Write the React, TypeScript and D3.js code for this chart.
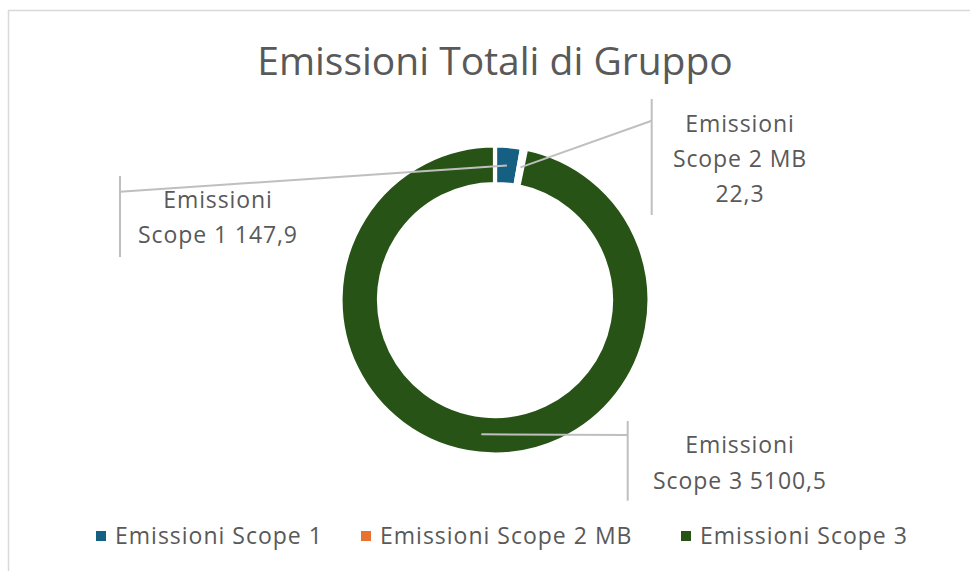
import { useEffect } from 'react'
import * as d3 from 'd3'

// dati
const CATEGORIES = ['Emissioni Scope 1', 'Emissioni Scope 2 MB', 'Emissioni Scope 3']
const VALUES = [147.9, 22.3, 5100.5]
const LABEL_LINES = [
  ['Emissioni', 'Scope 1 147,9'],
  ['Emissioni', 'Scope 2 MB', '22,3'],
  ['Emissioni', 'Scope 3 5100,5'],
]
const COLORS = ['#156082', '#e97132', '#275317']
const TITLE = 'Emissioni Totali di Gruppo'

const W = 970, H = 571
const CX = 495, CY = 300
const R_OUT = 154.5, R_IN = 116
const FONT = '"Open Sans", sans-serif'
const TXT = '#595959'

// riquadri delle etichette (x bordo, y alto, y basso, y aggancio, x centro testo, y prima riga)
const LABEL_BOX = [
  { edge: 120, top: 176, bottom: 257, hook: 191.7, cx: 218, y0: 208 },
  { edge: 651.7, top: 99, bottom: 215, hook: 120.7, cx: 740, y0: 131.7 },
  { edge: 627.7, top: 421, bottom: 500.7, hook: 435, cx: 740, y0: 453.3 },
]
const LINE_H = 35.3

const LEGEND_X = [96, 361, 681]

export default function App() {
  useEffect(() => { document.body.style.margin = '0' }, [])

  const pie = d3.pie<number>().sort(null).value(d => d)
  const arcs = pie(VALUES)
  const arc = d3.arc<d3.PieArcDatum<number>>().innerRadius(R_IN).outerRadius(R_OUT)
  const mid = d3.arc<d3.PieArcDatum<number>>().innerRadius(135).outerRadius(135)

  return (
    <svg width={W} height={H} style={{ display: 'block', fontFamily: FONT }}>
      <rect x={8.5} y={10.5} width={W + 10} height={H + 10} fill="#fff" stroke="#d9d9d9" strokeWidth={1.5} />
      <text x={CX} y={75} textAnchor="middle" fontSize={39} fill={TXT}>{TITLE}</text>

      <g transform={`translate(${CX},${CY})`}>
        {arcs.map((a, i) => (
          <path key={i} d={arc(a) || ''} fill={COLORS[i]} stroke="#fff" strokeWidth={4.2} />
        ))}
      </g>

      {arcs.map((a, i) => {
        const [mx, my] = mid.centroid(a)
        const b = LABEL_BOX[i]
        return (
          <g key={i}>
            <line x1={b.edge} x2={b.edge} y1={b.top} y2={b.bottom} stroke="#bfbfbf" strokeWidth={2} />
            <line x1={CX + mx} y1={CY + my} x2={b.edge} y2={b.hook} stroke="#bfbfbf" strokeWidth={2} />
            {LABEL_LINES[i].map((t, j) => (
              <text key={j} x={b.cx} y={b.y0 + j * LINE_H} textAnchor="middle" fontSize={23} letterSpacing={0.9} fill={TXT}>{t}</text>
            ))}
          </g>
        )
      })}

      {CATEGORIES.map((c, i) => (
        <g key={c} transform={`translate(${LEGEND_X[i]},536)`}>
          <rect x={0} y={-5} width={10} height={10} fill={COLORS[i]} />
          <text x={19} y={8} fontSize={23} letterSpacing={1} fill={TXT}>{c}</text>
        </g>
      ))}
    </svg>
  )
}
